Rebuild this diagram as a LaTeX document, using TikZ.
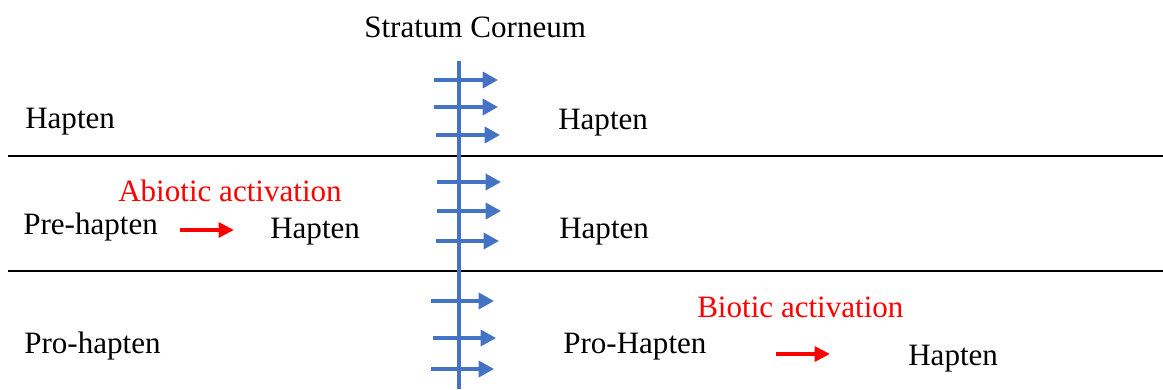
\documentclass[tikz,border=0pt]{standalone}
\usepackage{fontspec}
\setmainfont{Liberation Serif}
\newfontfamily\timesfont{Liberation Serif}
\usetikzlibrary{arrows.meta}
\definecolor{skinblue}{HTML}{4472C4}
\begin{document}
\begin{tikzpicture}[x=0.75pt, y=-0.75pt, text_style/.style={anchor=base west,inner sep=0pt,font=\timesfont\fontsize{23.3}{28}\selectfont},label_style/.style={text_style,text=red},layer_style/.style={draw=skinblue,line width=3pt},flux_style/.style={draw=skinblue,line width=2.6pt,-{Triangle[length=11.5pt,width=12pt]}},row_style/.style={draw=black,line width=1pt},activation_style/.style={draw=red,line width=2.8pt,-{Triangle[length=11.5pt,width=11pt]}}]
      \useasboundingbox (0,0) rectangle (1163,389);
      \draw
        (364,37) node[text_style] (sc){Stratum Corneum}
        (25,128) node[text_style] (hap_l1){Hapten}
        (558,129) node[text_style] (hap_r1){Hapten}
        (118,201) node[label_style] (abiotic){Abiotic activation}
        (23,234) node[text_style] (pre){Pre-hapten}
        (270,238) node[text_style] (hap_l2){Hapten}
        (559,238) node[text_style] (hap_r2){Hapten}
        (697,317) node[label_style] (biotic){Biotic activation}
        (24,353) node[text_style] (pro_l){Pro-hapten}
        (563,353) node[text_style] (pro_r){Pro-Hapten}
        (908,365) node[text_style] (hap_r3){Hapten};
      % rows
      \coordinate (row1_w) at (8,156);
      \coordinate (row1_e) at (1163,156);
      \coordinate (row2_w) at (8,271);
      \coordinate (row2_e) at (1163,271);
      \draw[row_style] (row1_w) -- (row1_e);
      \draw[row_style] (row2_w) -- (row2_e);
      % skin barrier
      \coordinate (sc_top) at (458.5,61);
      \coordinate (sc_bot) at (458.5,389);
      \draw[layer_style] (sc_top) -- (sc_bot);
      \foreach \ya/\xa/\xb [count=\i] in {80/434/498,107/434/498,135/436/500,182/437/501,211/437/501,241/436/499,301/431/494,338/433/496,369/431/494}{
        \coordinate (in\i) at (\xa,\ya);
        \coordinate (out\i) at (\xb,\ya);
        \draw[flux_style] (in\i) -- (out\i);
      }
      % activation
      \coordinate (abiotic_s) at (180,230);
      \coordinate (abiotic_e) at (234,230);
      \coordinate (biotic_s) at (776,354);
      \coordinate (biotic_e) at (830,354);
      \begin{scope}[-]
        \draw[activation_style] (abiotic_s) -- (abiotic_e);
        \draw[activation_style] (biotic_s) -- (biotic_e);
      \end{scope}
    \end{tikzpicture}
\end{document}
